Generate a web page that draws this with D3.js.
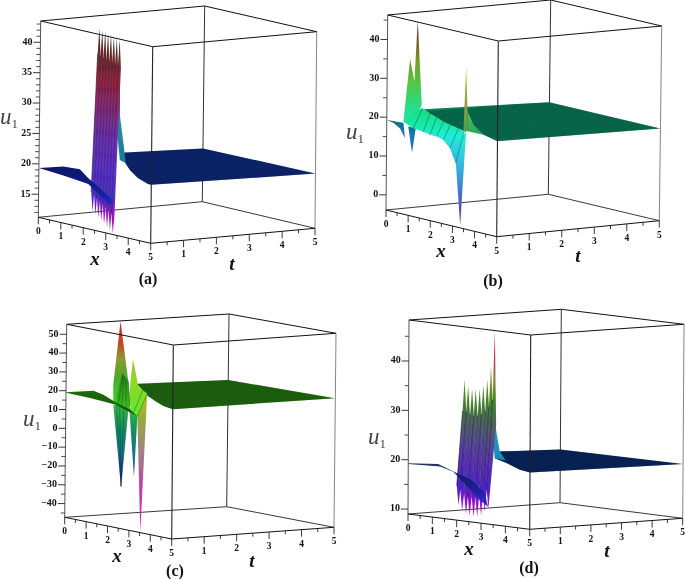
<!DOCTYPE html>
<html>
<head>
<meta charset="utf-8">
<script src="https://cdn.jsdelivr.net/npm/d3@7"></script>
<style>
html, body { margin: 0; padding: 0; background: #fff; }
#chart { width: 685px; height: 579px; }
svg { display: block; filter: blur(0.45px); }
text { font-family: "Liberation Serif", serif; fill: #111; }
</style>
</head>
<body>
<div id="chart"></div>
<script>
// tick values, shared by all four panels
const xMajor = [0, 1, 2, 3, 4, 5];
const xMinor = [0.5, 1.5, 2.5, 3.5, 4.5];
const tMajor = [1, 2, 3, 4, 5];
const tMinor = [0.5, 1.5, 2.5, 3.5, 4.5];
const meshX = d3.range(0, 5.01, 0.125);

// u axis ticks per panel
const uMajorA = [15, 20, 25, 30, 35, 40];
const uMinorA = d3.range(12, 44).filter(d => d % 5 != 0);
const uMajorB = [0, 10, 20, 30, 40];
const uMinorB = [5, 15, 25, 35, 45];
const uMajorC = [-40, -30, -20, -10, 0, 10, 20, 30, 40, 50];
const uMinorC = [-45, -35, -25, -15, -5, 5, 15, 25, 35, 45];
const uMajorD = [10, 20, 30, 40];
const uMinorD = [15, 25, 35, 45];

// surface points below are [x, t, u]

// panel (a)
const sheetA = [[0, 5, 20], [5, 5, 20.2], [5, 0, 20.8], [4.85, 0, 20.8], [4.4, 0, 21.4], [4.05, 0, 22.4], [3.71, 0, 24], [3.78, 0, 25.1]];
const wallA = [[3.53, 0, 43.4], [3.58, 0, 30.8], [3.8, 0, 25], [3.85, 0, 23.4], [3.59, 0, 23.7], [3.4, 0, 30]];
const wedgeA = [[0, 0, 19.3], [1.08, 0, 20.5], [1.82, 0, 20.65], [2.2, 0, 19.5], [2.72, 0, 18.3], [3.25, 0, 16.9], [3.18, 0, 15.8], [2.2, 0, 18.56], [1.09, 0, 19]];
const combXA = [2.4, 2.53, 2.66, 2.79, 2.92, 3.05, 3.18, 3.31];
const combHighA = [44.3, 44.1, 44, 43.8, 43.7, 43.5, 43.3, 43.1];
const combLowA = [14.2, 13.8, 13.4, 13, 12.6, 12.2, 11.8, 11.4];
const notchHighA = [40, 39.8, 39.6, 39.5, 39.3, 39.2, 39, 38.8, 38.6];
const notchLowA = [17.4, 17, 16.6, 16.2, 15.8, 15.4, 15, 14.6, 14.2];

// panel (b)
const sheetB = [[0, 5, 19.9], [5, 5, 19.9], [5, 0, 20.6], [4.37, 0, 21.4], [3.92, 0, 22.6], [3.54, 0, 21.1], [2.41, 0, 22.1], [1.66, 0, 24.3]];
const flankB = [[3.64, 0, 26.4], [3.92, 0, 23.3], [4.37, 0, 21.4], [3.65, 0, 21.3]];
const peaksB = [[0.75, 0, 19.9], [1.03, 0, 36.4], [1.23, 0, 30.8], [1.36, 0, 46.7], [1.57, 0, 25.4], [1.2, 0, 18.8]];
const dipOneB = [[0, 0, 19.26], [0.3, 0, 19.4], [0.45, 0, 19.4], [0.75, 0, 19.6], [0.83, 0, 15.7], [0.6, 0, 17.9], [0.3, 0, 19]];
const dipTwoB = [[0.97, 0, 18.9], [1.15, 0, 12.5], [1.31, 0, 18.9]];
const bandB = [[0.75, 0, 19.9], [1.2, 0, 18.8], [1.65, 0, 18.5], [1.95, 0, 18.1], [2.25, 0, 18.1], [2.56, 0, 17.6], [2.86, 0, 15.9], [3.13, 0, 12.4],
    [3.49, 0, 21], [3.23, 0, 21.5], [2.86, 0, 21.9], [2.56, 0, 22.3], [2.25, 0, 23], [1.95, 0, 23.6], [1.61, 0, 24.5], [1.28, 0, 23.2]];
const dipThreeB = [[2.93, 0, 15.1], [3.13, 0, 12.4], [3.35, 0, -3.2], [3.58, 0, 21.1]];
const peakThreeB = [[3.46, 0, 21], [3.56, 0, 37.9], [3.64, 0, 26.4], [3.65, 0, 21.3]];

// panel (c)
const sheetC = [[0, 5, 20.1], [5, 5, 21], [5, 0, 21.3], [4.56, 0, 22.1], [4.17, 0, 23.8], [3.85, 0, 25.7], [3.3, 0, 31.1]];
const wedgeC = [[0, 0, 19.2], [1.28, 0, 22.8], [1.75, 0, 21.8], [2.3, 0, 19.2], [3, 0, 16.7], [3.35, 0, 14], [2.3, 0, 17.8], [1.13, 0, 18.6], [0, 0, 18.9]];
const peakOneC = [[0.7, 1, 13.9], [0.69, 1, 23.6], [1, 1, 58], [1.39, 1, 27], [1.4, 1, 15.5]];
const dipOneC = [[0.7, 1, 13], [0.85, 1, 13], [1, 1, 13.2], [1.2, 1, 13.2], [1.4, 1, 13.3], [1.1, 1, -29.6], [1.1, 1, -29.6], [1.1, 1, -29.6], [1.1, 1, -29.6], [1.1, 1, -29.6]];
const peakTwoC = [[1.4, 1, 15.5], [1.6, 1, 39], [1.86, 1, 25.4], [1.83, 1, 9.4]];
const dipTwoC = [[1.45, 1, 12.9], [1.7, 1, -23.2], [1.83, 1, 9.4]];
const dipThreeC = [[1.83, 1, 9.4], [1.94, 1, 23.8], [2.28, 1, 22.3], [2.02, 1, -51.4]];
const panelOneC = [[0.78, 1, 14.6], [0.94, 1, 13.9], [1.1, 1, 13.2], [1.3, 1, 12.7], [1.48, 1, 12.1], [1.39, 1, 27], [1.28, 1, 28.4], [1.19, 1, 29.5], [1.14, 1, 30.2], [1.1, 1, 30.7]];
const panelTwoC = [[1.48, 1, 12.1], [1.65, 1, 10.8], [1.83, 1, 9.4], [2.28, 1, 22.3], [2.07, 1, 23.8], [1.86, 1, 25.4]];

// panel (d)
const sheetD = [[0, 5, 19.8], [5, 5, 20], [5, 0, 20.5], [4.58, 0, 20.8], [4.03, 0, 21.8], [3.55, 0, 22.5], [3.75, 0, 24]];
const wallD = [[3.5, 0, 33.6], [3.6, 0, 28.3], [3.75, 0, 24], [4, 0, 22.3], [3.55, 0, 22.5], [3.4, 0, 30]];
const wedgeD = [[0, 0, 19.3], [1.23, 0, 19.9], [1.71, 0, 19], [2.6, 0, 17.5], [3.15, 0, 15.1], [3.29, 0, 12.5], [2.95, 0, 13.6], [2.4, 0, 16.2], [1.85, 0, 18.7], [1.3, 0, 19.4], [0, 0, 19.15]];
const combXD = [2.07, 2.22, 2.38, 2.53, 2.69, 2.84, 3, 3.15, 3.3];
const combHighD = [37.5, 36.2, 35.7, 35.8, 35.9, 36.8, 38.1, 40.7, 48.1];
const combLowD = [12.1, 11.05, 10.5, 10.2, 10.1, 10.2, 10.5, 11.4, 12.2];
const notchHighD = [31, 31, 30.5, 30.3, 30.5, 30.8, 31.5, 32.5, 34, 29];
const notchLowD = [16, 15.2, 14.4, 14, 13.9, 14, 14.4, 15, 15.8, 16.5];

// colour against height, [u, colour], top down
const stopsCombA = [[44, "#3d2a2a"], [40, "#6a2a2a"], [36, "#a01f3a"], [31, "#8a2a80"], [26, "#6a2fc0"], [21, "#5a30d8"], [17, "#4a30d0"], [14, "#a010c0"], [11, "#d000b0"]];
const stopsWallA = [[43, "#7a2030"], [34, "#a02a40"], [30, "#20909a"], [24, "#1a7f90"]];
const stopsWedgeA = [[20, "#0c1870"], [17, "#14209c"], [15, "#2028c8"]];
const stopsUpB = [[46, "#6a1a1a"], [42, "#7a4a20"], [36, "#7a9a28"], [30, "#50c848"], [25, "#2adc80"], [19, "#20e8b0"]];
const stopsBandB = [[25, "#14dc80"], [21, "#18e8a8"], [18, "#20ecd8"], [14, "#30c8e0"], [8, "#4090d8"], [3, "#5060c0"], [-3, "#6020a0"]];
const stopsDipB = [[20, "#0c6a78"], [17, "#1878b0"], [12, "#2060c8"]];
const stopsPeakB = [[38, "#c0c020"], [28, "#90a040"], [22, "#50a050"]];
const stopsFlankB = [[27, "#70c050"], [21, "#20a860"]];
const stopsWedgeC = [[23, "#1c6a08"], [14, "#145a08"]];
const stopsUpC = [[58, "#e02020"], [46, "#c04a20"], [38, "#8a9a30"], [28, "#50a828"], [14, "#30e028"]];
const stopsDownC = [[13, "#30b840"], [0, "#108a68"], [-12, "#107a88"], [-24, "#2030a0"], [-30, "#181c70"]];
const stopsLimeC = [[39, "#a0c020"], [28, "#90d820"], [10, "#60e830"]];
const stopsPanelC = [[30, "#2a8818"], [12, "#38c020"]];
const stopsMagentaC = [[24, "#a8d020"], [8, "#98a840"], [-10, "#a08088"], [-28, "#c040a8"], [-50, "#e010c0"]];
const stopsCombD = [[48, "#e02040"], [42, "#c03040"], [38, "#8a9030"], [34, "#3f8a20"], [30, "#4a6a50"], [26, "#50508a"], [21, "#5a30b8"], [16, "#4a22d0"], [13, "#9010d0"], [10, "#c000c0"]];
const stopsWallD = [[34, "#b02a50"], [30, "#30a8c8"], [22, "#1888b0"]];
const stopsWedgeD = [[20, "#0a1650"], [17, "#101a78"], [13, "#2020b8"]];

const uTickLabel = d => String(d).replace("-", "\u2212");

// one entry per panel; corners are the cube in page pixels: A, B, C, D bottom then top
const panels = [
    {
        id: "a",
        corners: [[38.3, 217.3], [150.7, 243.3], [315, 228.3], [202.3, 201.7], [40.7, 21], [152.7, 46.7], [316.7, 31.7], [204.7, 6]],
        uDomain: [11.2, 43.5], uMajor: uMajorA, uMinor: uMinorA,
        sheet: sheetA, sheetU: [20.5, 20.1], sheetColor: "#0f2c7c",
        back: [{ pts: wallA, stops: stopsWallA }],
        comb: { x: combXA, high: combHighA, low: combLowA, notchHigh: notchHighA, notchLow: notchLowA, t: [0, 0.15], stops: stopsCombA },
        front: [{ pts: wedgeA, stops: stopsWedgeA }],
        uPos: [9, 118], xPos: [95, 260], tPos: [232, 265], capPos: [148, 279]
    },
    {
        id: "b",
        corners: [[386, 210], [496.7, 236.7], [659.3, 220.7], [548.3, 194.3], [387.7, 15], [498.3, 41], [661.7, 26], [550.7, 0]],
        uDomain: [-3.9, 46.3], uMajor: uMajorB, uMinor: uMinorB,
        sheet: sheetB, sheetU: [20.6, 19.9], sheetColor: "#0a8058",
        back: [{ pts: flankB, stops: stopsFlankB }, { pts: peaksB, stops: stopsUpB }, { pts: dipOneB, stops: stopsDipB }, { pts: dipTwoB, stops: stopsDipB }],
        comb: null,
        front: [{ pts: dipThreeB, stops: stopsBandB }, { pts: bandB, stops: stopsBandB, rungs: true }, { pts: peakThreeB, stops: stopsPeakB }],
        uPos: [355, 133], xPos: [441, 252], tPos: [578, 257], capPos: [493, 281]
    },
    {
        id: "c",
        corners: [[64.7, 517.3], [171.7, 539], [334, 527.3], [226.7, 506.7], [66.7, 324.3], [173.3, 345], [336, 333.3], [229, 314]],
        uDomain: [-47.3, 55.3], uMajor: uMajorC, uMinor: uMinorC,
        sheet: sheetC, sheetU: [21.2, 20.5], sheetColor: "#28800c",
        back: [{ pts: peakOneC, stops: stopsUpC }, { pts: peakTwoC, stops: stopsLimeC }, { pts: dipThreeC, stops: stopsMagentaC },
            { pts: dipOneC, stops: stopsDownC, rungs: true }, { pts: dipTwoC, stops: stopsDownC }],
        comb: null,
        front: [{ pts: panelOneC, stops: stopsPanelC, rungs: true }, { pts: panelTwoC, stops: stopsLimeC, rungs: true }, { pts: wedgeC, stops: stopsWedgeC }],
        uPos: [32, 420], xPos: [117, 557], tPos: [252, 562], capPos: [175, 571]
    },
    {
        id: "d",
        corners: [[408, 514], [529.7, 529.3], [682.7, 518.3], [560, 502.7], [409, 320], [530.7, 335], [684, 324.3], [561.3, 309.3]],
        uDomain: [9, 48.3], uMajor: uMajorD, uMinor: uMinorD,
        sheet: sheetD, sheetU: [20.4, 19.9], sheetColor: "#0c3070",
        back: [{ pts: wallD, stops: stopsWallD }],
        comb: { x: combXD, high: combHighD, low: combLowD, notchHigh: notchHighD, notchLow: notchLowD, t: [0, 0.18], stops: stopsCombD },
        front: [{ pts: wedgeD, stops: stopsWedgeD, opacity: 0.88 }],
        uPos: [377, 438], xPos: [469, 550], tPos: [607, 552], capPos: [529, 568]
    }
];

const svg = d3.select("#chart").append("svg")
    .attr("width", 685)
    .attr("height", 579);
const defs = svg.append("defs");

var gradCount = 0;

panels.forEach(drawPanel);

function drawPanel(p) {
    const xNorm = d3.scaleLinear().domain([0, 5]).range([0, 1]);
    const tNorm = d3.scaleLinear().domain([0, 5]).range([0, 1]);
    const uNorm = d3.scaleLinear().domain(p.uDomain).range([0, 1]);
    const c = p.corners;

    // bilinear over the floor and the lid, then up the height
    function project(x, t, u) {
        const a = xNorm(x), b = tNorm(t), h = uNorm(u);
        const at = (i) => (1 - b) * ((1 - a) * c[i][0] + a * c[i + 1][0]) + b * ((1 - a) * c[i + 3][0] + a * c[i + 2][0]);
        const yt = (i) => (1 - b) * ((1 - a) * c[i][1] + a * c[i + 1][1]) + b * ((1 - a) * c[i + 3][1] + a * c[i + 2][1]);
        return [(1 - h) * at(0) + h * at(4), (1 - h) * yt(0) + h * yt(4)];
    }

    const line = d3.line()
        .x(d => project(d[0], d[1], d[2])[0])
        .y(d => project(d[0], d[1], d[2])[1]);
    const closed = d3.line()
        .x(d => project(d[0], d[1], d[2])[0])
        .y(d => project(d[0], d[1], d[2])[1])
        .curve(d3.curveLinearClosed);

    const g = svg.append("g").attr("class", "panel-" + p.id);
    const uLo = p.uDomain[0];

    function edge(a, b, color, width) {
        g.append("line")
            .attr("x1", c[a][0]).attr("y1", c[a][1])
            .attr("x2", c[b][0]).attr("y2", c[b][1])
            .attr("stroke", color)
            .attr("stroke-width", width);
    }

    // back of the cube
    edge(3, 0, "#222", 0.9);
    edge(3, 2, "#222", 0.9);
    edge(3, 7, "#333", 1);
    edge(4, 7, "#111", 1);
    edge(7, 6, "#111", 1);

    // flat part of the surface with its mesh lines
    const clipId = "clip-" + p.id;
    defs.append("clipPath").attr("id", clipId)
        .append("path").attr("d", closed(p.sheet));
    g.append("path").attr("d", closed(p.sheet)).attr("fill", p.sheetColor);
    g.append("g").attr("clip-path", "url(#" + clipId + ")")
        .selectAll("path")
        .data(meshX)
        .enter()
        .append("path")
        .attr("d", d => line([[d, 0, p.sheetU[0]], [d, 5, p.sheetU[1]]]))
        .attr("fill", "none")
        .attr("stroke", "#00081c")
        .attr("stroke-opacity", 0.42)
        .attr("stroke-width", 0.5);

    function gradient(stops, mx, mt) {
        const id = "grad-" + (gradCount++);
        const top = project(mx, mt, stops[0][0]);
        const bottom = project(mx, mt, stops[stops.length - 1][0]);
        const frac = d3.scaleLinear().domain([stops[0][0], stops[stops.length - 1][0]]).range([0, 1]);
        defs.append("linearGradient")
            .attr("id", id)
            .attr("gradientUnits", "userSpaceOnUse")
            .attr("x1", top[0]).attr("y1", top[1])
            .attr("x2", top[0]).attr("y2", bottom[1])
            .selectAll("stop")
            .data(stops)
            .enter()
            .append("stop")
            .attr("offset", d => frac(d[0]))
            .attr("stop-color", d => d[1]);
        return "url(#" + id + ")";
    }

    function drawFin(f) {
        const mx = d3.mean(f.pts, d => d[0]);
        const mt = d3.mean(f.pts, d => d[1]);
        g.append("path")
            .attr("d", closed(f.pts))
            .attr("fill", gradient(f.stops, mx, mt))
            .attr("fill-opacity", f.opacity || 1);
        if (f.rungs) {
            // pts run along one side then back along the other, join them pairwise
            const n = f.pts.length;
            d3.range(1, Math.floor(n / 2)).forEach(i => {
                g.append("path")
                    .attr("d", line([f.pts[i], f.pts[n - 1 - i]]))
                    .attr("fill", "none")
                    .attr("stroke", "#062a20")
                    .attr("stroke-opacity", 0.6)
                    .attr("stroke-width", 0.6);
            });
        }
    }

    p.back.forEach(drawFin);

    if (p.comb) {
        const cb = p.comb;
        const half = (cb.x[1] - cb.x[0]) / 2;
        cb.x.forEach((x, i) => {
            const lo = cb.t[0], hi = cb.t[1];
            const pts = [
                [x, lo, cb.low[i]],
                [x + half, lo, cb.notchLow[i + 1]],
                [x + half, hi, cb.notchHigh[i + 1]],
                [x, hi, cb.high[i]],
                [x - half, hi, cb.notchHigh[i]],
                [x - half, lo, cb.notchLow[i]]
            ];
            g.append("path")
                .attr("d", closed(pts))
                .attr("fill", gradient(cb.stops, x, (lo + hi) / 2));
            g.append("path")
                .attr("d", line([pts[5], pts[4]]))
                .attr("fill", "none")
                .attr("stroke", "#1a1030")
                .attr("stroke-opacity", 0.7)
                .attr("stroke-width", 0.9);
        });
    }

    p.front.forEach(drawFin);

    // front of the cube, over the surface
    edge(0, 1, "#111", 1);
    edge(1, 2, "#111", 1);
    edge(4, 5, "#111", 1);
    edge(5, 6, "#111", 1);
    edge(0, 4, "#555", 1);
    edge(1, 5, "#222", 1.1);
    edge(2, 6, "#777", 0.9);

    // x and t ticks hang straight down from the floor edges
    function tick(pos, len) {
        g.append("line")
            .attr("x1", pos[0]).attr("y1", pos[1])
            .attr("x2", pos[0]).attr("y2", pos[1] + len)
            .attr("stroke", "#222")
            .attr("stroke-width", 0.9);
    }
    function tickLabel(pos, s) {
        g.append("text")
            .attr("x", pos[0]).attr("y", pos[1] + 14.8)
            .attr("text-anchor", "middle")
            .attr("dominant-baseline", "middle")
            .attr("font-size", 9.5)
            .attr("font-weight", "bold")
            .text(s);
    }
    xMajor.forEach(d => {
        const pos = project(d, 0, uLo);
        tick(pos, 7);
        tickLabel(pos, d);
    });
    xMinor.forEach(d => tick(project(d, 0, uLo), 3.5));
    tMajor.forEach(d => {
        const pos = project(5, d, uLo);
        tick(pos, 7);
        tickLabel(pos, d);
    });
    tMinor.forEach(d => tick(project(5, d, uLo), 3.5));

    // u ticks on the left edge
    p.uMajor.forEach(d => {
        const pos = project(0, 0, d);
        g.append("line")
            .attr("x1", pos[0]).attr("y1", pos[1])
            .attr("x2", pos[0] - 7).attr("y2", pos[1])
            .attr("stroke", "#222").attr("stroke-width", 0.9);
        g.append("text")
            .attr("x", pos[0] - 8).attr("y", pos[1])
            .attr("text-anchor", "end")
            .attr("dominant-baseline", "middle")
            .attr("font-size", 10)
            .attr("font-weight", "bold")
            .text(uTickLabel(d));
    });
    p.uMinor.forEach(d => {
        const pos = project(0, 0, d);
        g.append("line")
            .attr("x1", pos[0]).attr("y1", pos[1])
            .attr("x2", pos[0] - 4).attr("y2", pos[1])
            .attr("stroke", "#222").attr("stroke-width", 0.8);
    });

    // axis names and caption
    const uText = g.append("text")
        .attr("x", p.uPos[0]).attr("y", p.uPos[1] + 6)
        .attr("text-anchor", "middle")
        .attr("font-size", 23)
        .attr("font-style", "italic")
        .style("fill", "#444")
        .text("u");
    uText.append("tspan")
        .attr("dy", 4)
        .attr("font-size", 13)
        .attr("font-style", "normal")
        .text("1");

    g.append("text")
        .attr("x", p.xPos[0]).attr("y", p.xPos[1] + 5)
        .attr("text-anchor", "middle")
        .attr("font-size", 19)
        .attr("font-weight", "bold")
        .attr("font-style", "italic")
        .text("x");
    g.append("text")
        .attr("x", p.tPos[0]).attr("y", p.tPos[1] + 5)
        .attr("text-anchor", "middle")
        .attr("font-size", 19)
        .attr("font-weight", "bold")
        .attr("font-style", "italic")
        .text("t");
    g.append("text")
        .attr("x", p.capPos[0]).attr("y", p.capPos[1] + 5)
        .attr("text-anchor", "middle")
        .attr("font-size", 16)
        .attr("font-weight", "bold")
        .text("(" + p.id + ")");
}
</script>
</body>
</html>
